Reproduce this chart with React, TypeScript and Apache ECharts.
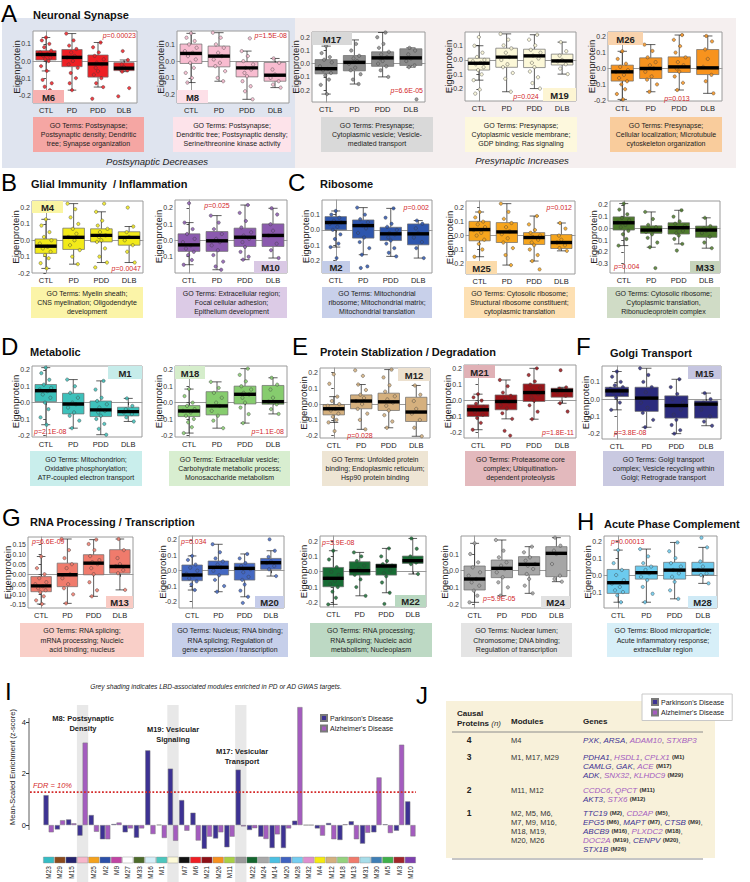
import React, { useEffect, useRef } from 'react';
import * as echarts from 'echarts';

const FONT = "'Liberation Sans', Arial, sans-serif";
const CATS = ['CTL', 'PD', 'PDD', 'DLB'];

// [min, q1, median, q3, max] per group (CTL, PD, PDD, DLB)
const BOX_M6 = [[-0.058, 0.006, 0.038, 0.06, 0.137], [-0.17, -0.033, 0.021, 0.067, 0.16], [-0.152, -0.094, -0.017, 0.035, 0.108], [-0.062, -0.056, -0.042, -0.01, 0.006]];
const PTS_M6 = [[0.137, 0.12, 0.1, 0.08, 0.06, 0.05, 0.04, 0.03, 0.02, 0.01, 0, -0.03, -0.058, -0.11, -0.13, -0.15, -0.17], [0.16, 0.12, 0.09, 0.07, 0.05, 0.03, 0.02, 0, -0.02, -0.04, -0.07, -0.1, -0.13, -0.17], [0.108, 0.08, 0.05, 0.03, 0.01, -0.01, -0.02, -0.04, -0.06, -0.08, -0.1, -0.13, -0.152, -0.22], [0.058, 0.006, -0.02, -0.035, -0.045, -0.055, -0.062, -0.158, -0.206]];
const BOX_M8 = [[-0.128, -0.014, 0.046, 0.102, 0.166], [-0.12, -0.034, 0.03, 0.09, 0.17], [-0.228, -0.094, -0.04, -0.004, 0.06], [-0.158, -0.12, -0.084, -0.008, 0.016]];
const PTS_M8 = [[0.166, 0.14, 0.12, 0.1, 0.08, 0.06, 0.05, 0.03, 0.01, -0.01, -0.04, -0.07, -0.1, -0.128], [0.17, 0.14, 0.1, 0.08, 0.05, 0.03, 0.01, -0.01, -0.03, -0.06, -0.1, -0.12], [0.136, 0.06, 0.03, 0, -0.02, -0.04, -0.05, -0.07, -0.09, -0.12, -0.15, -0.18, -0.228], [0.016, -0.01, -0.05, -0.08, -0.1, -0.12, -0.14, -0.158]];
const BOX_M17 = [[-0.23, -0.077, -0.038, 0.031, 0.133], [-0.154, -0.054, 0.01, 0.062, 0.18], [-0.1, -0.02, 0.044, 0.09, 0.236], [-0.026, -0.013, 0.044, 0.113, 0.12]];
const PTS_M17 = [[0.133, 0.08, 0.05, 0.03, 0.01, -0.02, -0.04, -0.05, -0.07, -0.09, -0.12, -0.16, -0.23], [0.18, 0.15, 0.1, 0.06, 0.04, 0.02, 0, -0.03, -0.05, -0.08, -0.12, -0.154], [0.236, 0.2, 0.15, 0.12, 0.09, 0.07, 0.05, 0.04, 0.02, 0, -0.02, -0.05, -0.1], [0.12, 0.1, 0.07, 0.04, 0.02, -0.013, -0.026, -0.27]];
const BOX_M19 = [[-0.14, -0.07, -0.023, 0.012, 0.098], [-0.22, -0.051, 0.019, 0.081, 0.18], [-0.198, -0.053, 0.028, 0.074, 0.174], [-0.098, -0.035, -0.007, 0.04, 0.123]];
const PTS_M19 = [[0.158, 0.098, 0.05, 0.02, 0, -0.01, -0.02, -0.03, -0.05, -0.07, -0.1, -0.14, -0.205, -0.233], [0.18, 0.14, 0.1, 0.08, 0.05, 0.02, 0, -0.03, -0.05, -0.09, -0.13, -0.22], [0.174, 0.14, 0.1, 0.07, 0.05, 0.03, 0.01, -0.02, -0.05, -0.08, -0.12, -0.16, -0.198], [0.123, 0.06, 0.03, 0, -0.01, -0.03, -0.06, -0.098]];
const BOX_M26 = [[-0.194, -0.079, -0.021, 0.021, 0.108], [-0.146, -0.063, 0, 0.067, 0.15], [-0.135, -0.025, 0.01, 0.073, 0.21], [-0.156, -0.038, 0.004, 0.119, 0.204]];
const PTS_M26 = [[0.108, 0.06, 0.03, 0.01, -0.01, -0.02, -0.04, -0.06, -0.08, -0.1, -0.13, -0.16, -0.194], [0.15, 0.11, 0.07, 0.04, 0.02, 0, -0.02, -0.05, -0.07, -0.1, -0.146], [0.21, 0.18, 0.14, 0.1, 0.07, 0.04, 0.02, 0, -0.02, -0.05, -0.09, -0.135], [0.204, 0.17, 0.12, 0.06, 0.01, -0.04, -0.08, -0.156]];
const BOX_M4 = [[-0.172, -0.08, -0.036, 0.008, 0.128], [-0.146, -0.056, 0.018, 0.074, 0.224], [-0.136, -0.01, 0.03, 0.07, 0.174], [-0.136, -0.03, 0.018, 0.052, 0.084]];
const PTS_M4 = [[0.128, 0.09, 0.05, 0.02, 0, -0.02, -0.04, -0.05, -0.07, -0.09, -0.11, -0.14, -0.172], [0.224, 0.19, 0.14, 0.1, 0.07, 0.04, 0.02, 0, -0.03, -0.06, -0.1, -0.146], [0.224, 0.174, 0.12, 0.09, 0.07, 0.05, 0.03, 0.02, 0, -0.01, -0.05, -0.1, -0.136, -0.166], [0.2, 0.084, 0.05, 0.02, 0, -0.03, -0.07, -0.136]];
const BOX_M10 = [[-0.149, -0.067, -0.027, 0.041, 0.11], [-0.18, -0.067, -0.002, 0.055, 0.153], [-0.118, -0.037, 0.02, 0.076, 0.218], [-0.108, -0.037, 0.031, 0.102, 0.198]];
const PTS_M10 = [[0.229, 0.11, 0.07, 0.04, 0.01, -0.01, -0.03, -0.05, -0.07, -0.09, -0.12, -0.149], [0.153, 0.11, 0.07, 0.04, 0.01, -0.01, -0.03, -0.06, -0.09, -0.13, -0.16, -0.18], [0.218, 0.17, 0.12, 0.08, 0.05, 0.03, 0.01, -0.01, -0.04, -0.07, -0.1, -0.118], [0.198, 0.16, 0.1, 0.06, 0.03, -0.02, -0.06, -0.108]];
const BOX_M2 = [[-0.113, 0, 0.048, 0.087, 0.124], [-0.163, -0.054, 0.028, 0.065, 0.146], [-0.174, -0.07, -0.026, 0.017, 0.141], [-0.185, -0.098, -0.026, 0.039, 0.061]];
const PTS_M2 = [[0.124, 0.1, 0.08, 0.06, 0.05, 0.04, 0.02, 0, -0.03, -0.06, -0.09, -0.113, -0.185], [0.146, 0.1, 0.07, 0.05, 0.03, 0.01, -0.02, -0.05, -0.08, -0.12, -0.163, -0.24, -0.25], [0.141, 0.08, 0.04, 0.02, 0, -0.02, -0.03, -0.05, -0.07, -0.09, -0.12, -0.15, -0.174], [0.061, 0.04, 0.01, -0.02, -0.05, -0.08, -0.12, -0.185]];
const BOX_M25 = [[-0.152, -0.038, 0.043, 0.102, 0.169], [-0.212, -0.05, 0.026, 0.093, 0.229], [-0.183, -0.064, -0.014, 0.021, 0.14], [-0.11, -0.093, -0.05, 0.007, 0.09]];
const PTS_M25 = [[0.169, 0.13, 0.1, 0.08, 0.06, 0.04, 0.02, 0, -0.03, -0.06, -0.1, -0.152], [0.229, 0.17, 0.12, 0.09, 0.06, 0.03, 0.01, -0.02, -0.05, -0.09, -0.14, -0.212], [0.14, 0.08, 0.04, 0.02, 0, -0.01, -0.03, -0.05, -0.07, -0.1, -0.14, -0.183, -0.243], [0.09, 0.05, 0, -0.03, -0.05, -0.07, -0.09, -0.11]];
const BOX_M33 = [[-0.146, -0.014, 0.048, 0.098, 0.211], [-0.16, -0.042, -0.014, 0.022, 0.14], [-0.132, -0.048, 0.006, 0.048, 0.154], [-0.168, -0.076, -0.014, 0.02, 0.09]];
const PTS_M33 = [[0.211, 0.16, 0.12, 0.09, 0.07, 0.05, 0.03, 0.01, -0.02, -0.05, -0.09, -0.146], [0.14, 0.08, 0.03, 0.01, -0.01, -0.02, -0.03, -0.05, -0.08, -0.12, -0.16, -0.337], [0.154, 0.1, 0.06, 0.04, 0.02, 0, -0.02, -0.04, -0.06, -0.09, -0.132, -0.188], [0.09, 0.02, 0, -0.02, -0.04, -0.07, -0.12, -0.168]];
const BOX_M1 = [[-0.135, 0.006, 0.073, 0.111, 0.214], [-0.156, -0.069, -0.008, 0.057, 0.141], [-0.196, -0.085, -0.044, 0.01, 0.133], [-0.115, -0.081, -0.055, -0.028, 0.026]];
const PTS_M1 = [[0.214, 0.18, 0.14, 0.11, 0.09, 0.08, 0.07, 0.05, 0.03, 0, -0.04, -0.09, -0.135], [0.141, 0.1, 0.06, 0.03, 0, -0.01, -0.03, -0.06, -0.08, -0.11, -0.156], [0.133, 0.08, 0.03, 0.01, -0.01, -0.03, -0.05, -0.06, -0.08, -0.1, -0.13, -0.16, -0.196], [0.026, -0.02, -0.04, -0.05, -0.06, -0.07, -0.09, -0.115]];
const BOX_M18 = [[-0.186, -0.085, -0.051, -0.018, 0.083], [-0.156, -0.075, -0.02, 0.067, 0.127], [-0.125, -0.008, 0.051, 0.101, 0.208], [-0.069, -0.01, 0.006, 0.105, 0.152]];
const PTS_M18 = [[0.083, 0.04, 0, -0.02, -0.04, -0.05, -0.06, -0.08, -0.1, -0.12, -0.15, -0.186], [0.127, 0.09, 0.06, 0.03, 0, -0.02, -0.05, -0.08, -0.11, -0.156], [0.208, 0.17, 0.13, 0.1, 0.08, 0.06, 0.05, 0.03, 0, -0.03, -0.07, -0.125], [0.152, 0.11, 0.08, 0.03, 0.006, -0.01, -0.04, -0.069]];
const BOX_M12 = [[-0.116, -0.068, -0.029, -0.002, 0.048], [-0.16, -0.029, 0.02, 0.059, 0.125], [-0.15, -0.04, 0.015, 0.07, 0.22], [-0.204, -0.11, -0.05, 0.044, 0.119]];
const PTS_M12 = [[0.19, 0.13, 0.048, 0.02, 0, -0.01, -0.03, -0.04, -0.06, -0.08, -0.1, -0.116, -0.171], [0.215, 0.18, 0.125, 0.09, 0.06, 0.04, 0.02, 0, -0.03, -0.06, -0.1, -0.16], [0.22, 0.17, 0.12, 0.08, 0.05, 0.03, 0.01, -0.01, -0.04, -0.07, -0.11, -0.15], [0.119, 0.06, 0.02, -0.03, -0.06, -0.1, -0.15, -0.204]];
const BOX_M21 = [[-0.183, -0.1, -0.058, -0.027, 0.04], [-0.115, -0.058, -0.006, 0.035, 0.129], [-0.117, -0.006, 0.05, 0.104, 0.202], [-0.017, 0.021, 0.063, 0.077, 0.083]];
const PTS_M21 = [[0.04, 0.02, 0, -0.02, -0.04, -0.05, -0.06, -0.07, -0.09, -0.11, -0.14, -0.183], [0.129, 0.09, 0.05, 0.03, 0.01, -0.01, -0.03, -0.05, -0.08, -0.115, -0.19, -0.22], [0.202, 0.16, 0.12, 0.1, 0.08, 0.06, 0.04, 0.02, 0, -0.03, -0.07, -0.117], [0.19, 0.083, 0.075, 0.065, 0.055, 0.03, -0.017, -0.069]];
const BOX_M15 = [[-0.062, 0.015, 0.048, 0.069, 0.16], [-0.163, -0.071, 0.006, 0.069, 0.179], [-0.2, -0.11, -0.037, 0.019, 0.115], [-0.154, -0.11, -0.029, -0.01, 0.035]];
const PTS_M15 = [[0.16, 0.13, 0.1, 0.08, 0.07, 0.06, 0.05, 0.04, 0.03, 0.01, -0.02, -0.062], [0.179, 0.14, 0.1, 0.07, 0.04, 0.01, -0.02, -0.05, -0.08, -0.12, -0.163], [0.115, 0.07, 0.03, 0, -0.02, -0.04, -0.06, -0.09, -0.12, -0.15, -0.18, -0.2], [0.035, 0, -0.02, -0.03, -0.06, -0.1, -0.13, -0.154]];
const BOX_M13 = [[-0.148, -0.087, -0.058, -0.012, 0.088], [-0.145, -0.062, -0.003, 0.055, 0.175], [-0.11, -0.003, 0.055, 0.097, 0.172], [-0.078, 0.005, 0.038, 0.122, 0.175]];
const PTS_M13 = [[0.088, 0.03, 0, -0.02, -0.04, -0.05, -0.06, -0.07, -0.08, -0.09, -0.11, -0.13, -0.148], [0.175, 0.12, 0.08, 0.05, 0.03, 0, -0.02, -0.05, -0.07, -0.1, -0.145], [0.172, 0.15, 0.12, 0.09, 0.07, 0.06, 0.05, 0.03, 0, -0.04, -0.08, -0.11], [0.175, 0.12, 0.08, 0.05, 0.04, 0.02, 0.005, -0.078]];
const BOX_M20 = [[-0.126, -0.065, -0.028, 0.037, 0.096], [-0.137, -0.028, 0.022, 0.063, 0.172], [-0.17, -0.061, 0.015, 0.048, 0.109], [-0.035, 0.009, 0.052, 0.08, 0.13]];
const PTS_M20 = [[0.096, 0.07, 0.04, 0.02, 0, -0.02, -0.03, -0.05, -0.07, -0.09, -0.126], [0.172, 0.12, 0.08, 0.06, 0.04, 0.02, 0, -0.03, -0.06, -0.1, -0.137], [0.109, 0.08, 0.05, 0.03, 0.01, -0.01, -0.04, -0.06, -0.09, -0.13, -0.17, -0.21], [0.204, 0.13, 0.09, 0.06, 0.05, 0.03, 0.009, -0.035]];
const BOX_M22 = [[-0.213, -0.098, -0.043, 0.028, 0.137], [-0.157, -0.022, 0.007, 0.065, 0.126], [-0.137, -0.022, 0.037, 0.05, 0.152], [-0.015, 0.054, 0.072, 0.102, 0.217]];
const PTS_M22 = [[0.137, 0.08, 0.03, 0, -0.02, -0.04, -0.06, -0.08, -0.1, -0.13, -0.17, -0.213], [0.126, 0.1, 0.07, 0.04, 0.02, 0, -0.02, -0.05, -0.1, -0.157], [0.152, 0.1, 0.07, 0.05, 0.04, 0.03, 0.01, -0.01, -0.03, -0.07, -0.137, -0.21], [0.217, 0.15, 0.1, 0.08, 0.07, 0.06, 0.05, -0.015]];
const BOX_M24 = [[-0.19, -0.116, -0.05, 0.028, 0.164], [-0.15, -0.042, 0.014, 0.064, 0.184], [-0.136, -0.026, 0.038, 0.084, 0.144], [-0.066, -0.036, 0.104, 0.144, 0.198]];
const PTS_M24 = [[0.164, 0.1, 0.05, 0.02, -0.01, -0.03, -0.05, -0.07, -0.09, -0.12, -0.15, -0.19], [0.184, 0.12, 0.08, 0.05, 0.03, 0.01, -0.01, -0.04, -0.07, -0.1, -0.15], [0.144, 0.11, 0.08, 0.06, 0.04, 0.03, 0.01, -0.02, -0.05, -0.09, -0.136], [0.198, 0.15, 0.12, 0.1, 0.04, -0.03, -0.05, -0.066]];
const BOX_M28 = [[-0.16, -0.108, -0.045, 0.033, 0.147], [-0.16, -0.024, 0.014, 0.053, 0.153], [-0.14, -0.024, 0.029, 0.075, 0.192], [-0.049, 0, 0.029, 0.075, 0.163]];
const PTS_M28 = [[0.147, 0.07, 0.03, 0, -0.03, -0.05, -0.07, -0.09, -0.1, -0.12, -0.16], [0.153, 0.11, 0.07, 0.05, 0.03, 0.01, -0.01, -0.03, -0.07, -0.11, -0.16], [0.192, 0.14, 0.1, 0.07, 0.05, 0.03, 0.01, -0.01, -0.04, -0.09, -0.14], [0.22, 0.163, 0.08, 0.05, 0.03, 0.01, 0, -0.049]];

const GO_TERMS: Record<string, string> = {
  M6: 'GO Terms: Postsynapse;\nPostsynaptic density; Dendritic\ntree; Synapse organization',
  M8: 'GO Terms: Postsynapse;\nDendritic tree; Postsynaptic density;\nSerine/threonine kinase activity',
  M17: 'GO Terms: Presynapse;\nCytoplasmic vesicle; Vesicle-\nmediated transport',
  M19: 'GO Terms: Presynapse;\nCytoplasmic vesicle membrane;\nGDP binding; Ras signaling',
  M26: 'GO Terms: Presynapse;\nCellular localization; Microtubule\ncytoskeleton organization',
  M4: 'GO Terms: Myelin sheath;\nCNS myelination; Oligodendryte\ndevelopment',
  M10: 'GO Terms: Extracellular region;\nFocal cellular adhesion;\nEpithelium development',
  M2: 'GO Terms: Mitochondrial\nribosome; Mitochondrial matrix;\nMitochondrial translation',
  M25: 'GO Terms: Cytosolic ribosome;\nStructural ribosome constituent;\ncytoplasmic translation',
  M33: 'GO Terms: Cytosolic ribosome;\nCytoplasmic translation,\nRibonucleoprotein complex',
  M1: 'GO Terms: Mitochondrion;\nOxidative phosphorylation;\nATP-coupled electron transport',
  M18: 'GO Terms: Extracellular vesicle;\nCarbohydrate metabolic process;\nMonosaccharide metabolism',
  M12: 'GO Terms: Unfolded protein\nbinding; Endoplasmic reticulum;\nHsp90 protein binding',
  M21: 'GO Terms: Proteasome core\ncomplex; Ubiquitination-\ndependent proteolysis',
  M15: 'GO Terms: Golgi transport\ncomplex; Vesicle recycling within\nGolgi; Retrograde transport',
  M13: 'GO Terms: RNA splicing;\nmRNA processing; Nucleic\nacid binding; nucleus',
  M20: 'GO Terms: Nucleus; RNA binding;\nRNA splicing; Regulation of\ngene expression / transcription',
  M22: 'GO Terms: RNA processing;\nRNA splicing; Nucleic acid\nmetabolism; Nucleoplasm',
  M24: 'GO Terms: Nuclear lumen;\nChromosome; DNA binding;\nRegulation of transcription',
  M28: 'GO Terms: Blood microparticle;\nAcute inflammatory response;\nextracellular region',
};

const P_VALUES: Record<string, string> = {
  M6: '0.00023', M8: '1.5E-08', M17: '6.6E-05', M19: '0.024', M26: '0.013', M4: '0.0047', M10: '0.025',
  M2: '0.002', M25: '0.012', M33: '0.004', M1: '2.1E-08', M18: '1.1E-08', M12: '0.028', M21: '1.8E-11',
  M15: '3.8E-08', M13: '6.6E-09', M20: '0.034', M22: '3.9E-08', M24: '5.9E-05', M28: '0.00013',
};

// Panel I data
const I_MODULES = ['M23', 'M29', 'M15', 'M8', 'M25', 'M2', 'M9', 'M27', 'M33', 'M16', 'M1', 'M19', 'M7', 'M6', 'M21', 'M26', 'M11', 'M17', 'M22', 'M24', 'M14', 'M20', 'M28', 'M32', 'M4', 'M12', 'M18', 'M13', 'M31', 'M30', 'M5', 'M3', 'M10'];
const I_PD = [1.16, -0.17, 0.22, -0.41, 0.39, -0.55, 0.04, -0.28, -0.49, 2.9, 0.01, 2.19, 0.97, 0.48, -0.92, -0.52, -0.86, 2.15, -0.19, -0.45, -0.89, -0.89, 0.17, 0.0, -0.13, 0.08, -0.58, 0.15, -0.72, -0.28, 0.03, -0.22, 0.92];
const I_AD = [-0.28, 0.19, 0.07, 3.2, -0.26, -0.55, 0.1, -0.13, -0.13, -0.35, -0.5, -0.61, -0.22, -0.6, -0.45, -0.28, -0.45, -0.05, -0.12, -0.54, -0.36, -0.13, 4.58, 0.0, -0.41, -0.55, 0.03, -0.55, -0.3, 1.85, -0.31, 3.12, -0.44];
const I_COLORS = ['#35bcc4', '#8b4a1c', '#24246e', '#f7b6ca', '#f4a21d', '#2c50a8', '#c044a4', '#ffffff', '#4d6b2a', '#d6eef8', '#4cc6bd', '#fdfad8', '#111111', '#ee1f24', '#8e0f16', '#f7901e', '#a9d044', '#9a9a9a', '#14662f', '#a9a9a9', '#4cc0e2', '#3f62c0', '#74cdf0', '#de8fd0', '#f5ea10', '#d4b07e', '#94d27e', '#f07b6c', '#a7dde9', '#3f7fb6', '#3fb04a', '#a1262a', '#7d3fae'];
const I_SHADED = ['M8', 'M19', 'M17'];
const I_FDR = [1.28];

// Panel J data
const J_COUNTS = ['4', '3', '2', '1'];
const J_MODULES = ['M4', 'M1, M17, M29', 'M11, M12', 'M2, M5, M6,\nM7, M9, M16,\nM18, M19,\nM20, M26'];
const J_GENES = [
  ['{p|PXK}, {p|ARSA}, {a|ADAM10}, {a|STXBP3}'],
  ['{p|PDHA1}, {a|HSDL1}, {a|CPLX1} {m|(M1)}', '{p|CAMLG}, {p|GAK}, {a|ACE} {m|(M17)}', '{p|ADK}, {a|SNX32}, {a|KLHDC9} {m|(M29)}'],
  ['{a|CCDC6}, {a|QPCT} {m|(M11)}', '{p|AKT3}, {a|STX6} {m|(M12)}'],
  ['{p|TTC19} {m|(M2)}, {a|CD2AP} {m|(M5)},', '{p|EPG5} {m|(M6)}, {p|MAPT} {m|(M7)}, {p|CTSB} {m|(M9)},', '{p|ABCB9} {m|(M16)}, {a|PLXDC2} {m|(M18)},', '{a|DOC2A} {m|(M19)}, {p|CENPV} {m|(M20)},', '{p|STX1B} {m|(M26)}'],
];

const PD_COLOR = '#3d3293';
const AD_COLOR = '#a45cbf';

// layout for each boxplot panel
const T4 = [-0.2, -0.1, 0, 0.1];
const T5 = [-0.2, -0.1, 0, 0.1, 0.2];
const PANELS: any[] = [
  { id: 'M6', box: BOX_M6, pts: PTS_M6, color: '#ee1f24', tagc: '#f7b1b0', goc: '#f5a6a3', grid: [33, 31, 104, 72], y: [-0.245, 0.175], ticks: T4, tag: [33, 90, 31, 13], pAt: [136, 35, 'right'], go: [33, 117, 111, 35] },
  { id: 'M8', box: BOX_M8, pts: PTS_M8, color: '#f8bcd0', tagc: '#fde0e8', goc: '#fde3ea', grid: [177, 31, 112, 72], y: [-0.25, 0.18], ticks: T4, tag: [177, 90, 31, 13], pAt: [287, 35, 'right'], go: [173, 117, 118, 35] },
  { id: 'M17', box: BOX_M17, pts: PTS_M17, color: '#8c8c8c', tagc: '#d8d8d8', goc: '#d9d9d9', grid: [312, 32, 113, 70], y: [-0.29, 0.24], ticks: T5, tag: [312, 32, 40, 13], pAt: [423, 90, 'right'], go: [321, 117, 112, 35] },
  { id: 'M19', box: BOX_M19, pts: PTS_M19, color: '#fcf8d8', tagc: '#fdf5d3', goc: '#fdf8dd', grid: [465, 32, 111, 69], y: [-0.284, 0.193], ticks: T4, tag: [543, 88, 33, 13], pAt: [526, 96, 'center'], go: [465, 117, 112, 35] },
  { id: 'M26', box: BOX_M26, pts: PTS_M26, color: '#f7931e', tagc: '#f9d3ad', goc: '#f9cc9c', grid: [608, 32, 114, 69], y: [-0.204, 0.229], ticks: T5, tag: [608, 32, 35, 13], pAt: [677, 98, 'center'], go: [610, 117, 112, 35] },
  { id: 'M4', box: BOX_M4, pts: PTS_M4, color: '#f2ea1a', tagc: '#faf5a3', goc: '#fbf4a8', grid: [32, 201, 111, 72], y: [-0.2, 0.24], ticks: T5, tag: [32, 201, 31, 12], pAt: [141, 268, 'right'], go: [31, 287, 112, 31] },
  { id: 'M10', box: BOX_M10, pts: PTS_M10, color: '#8b5aaf', tagc: '#d9c8e4', goc: '#dccbe6', grid: [175, 200, 112, 73], y: [-0.2, 0.249], ticks: [-0.1, 0, 0.1, 0.2], tag: [254, 261, 33, 12], pAt: [217, 205, 'center'], go: [176, 287, 111, 31] },
  { id: 'M2', box: BOX_M2, pts: PTS_M2, color: '#2e56ad', tagc: '#c3cce8', goc: '#c8d0ea', grid: [322, 200, 110, 73], y: [-0.283, 0.196], ticks: T4, tag: [322, 261, 28, 12], pAt: [429, 207, 'right'], go: [322, 287, 110, 31] },
  { id: 'M25', box: BOX_M25, pts: PTS_M25, color: '#f6a51d', tagc: '#fbdbab', goc: '#fde0b3', grid: [466, 201, 109, 73], y: [-0.276, 0.248], ticks: T5, tag: [466, 261, 31, 13], pAt: [572, 207, 'right'], go: [464, 287, 111, 31] },
  { id: 'M33', box: BOX_M33, pts: PTS_M33, color: '#4d7a2b', tagc: '#c6d3bb', goc: '#d0dcc6', grid: [610, 201, 110, 72], y: [-0.379, 0.233], ticks: [-0.3, -0.2, -0.1, 0, 0.1, 0.2], tag: [690, 261, 30, 12], pAt: [614, 266, 'left'], go: [607, 287, 113, 31] },
  { id: 'M1', box: BOX_M1, pts: PTS_M1, color: '#3dc1bb', tagc: '#c6ecea', goc: '#c9eeec', grid: [32, 366, 110, 71], y: [-0.21, 0.224], ticks: T5, tag: [108, 366, 34, 13], pAt: [34, 431, 'left'], go: [30, 451, 112, 35] },
  { id: 'M18', box: BOX_M18, pts: PTS_M18, color: '#86cc6e', tagc: '#d5edcb', goc: '#d8eed0', grid: [175, 366, 112, 71], y: [-0.21, 0.224], ticks: T5, tag: [175, 366, 30, 13], pAt: [284, 431, 'right'], go: [169, 451, 121, 35] },
  { id: 'M12', box: BOX_M12, pts: PTS_M12, color: '#d5b07e', tagc: '#ece0ce', goc: '#eee5d4', grid: [320, 368, 110, 70], y: [-0.215, 0.23], ticks: T5, tag: [398, 368, 32, 13], pAt: [360, 435, 'center'], go: [322, 451, 106, 35] },
  { id: 'M21', box: BOX_M21, pts: PTS_M21, color: '#9a1419', tagc: '#e0b1b6', goc: '#e3b9bd', grid: [464, 365, 112, 73], y: [-0.235, 0.223], ticks: T5, tag: [464, 365, 31, 13], pAt: [574, 432, 'right'], go: [465, 451, 111, 35] },
  { id: 'M15', box: BOX_M15, pts: PTS_M15, color: '#2b2b7d', tagc: '#c5c5e0', goc: '#c9c9e1', grid: [602, 366, 119, 73], y: [-0.231, 0.192], ticks: T4, tag: [688, 366, 33, 13], pAt: [614, 432, 'left'], go: [603, 451, 121, 35] },
  { id: 'M13', box: BOX_M13, pts: PTS_M13, color: '#f07b6c', tagc: '#f9cbc4', goc: '#f9cfc8', grid: [28, 537, 105, 71], y: [-0.168, 0.185], ticks: [-0.15, -0.1, -0.05, 0, 0.05, 0.1, 0.15], dec: 2, tag: [106, 596, 27, 12], pAt: [32, 541, 'left'], go: [20, 623, 124, 34] },
  { id: 'M20', box: BOX_M20, pts: PTS_M20, color: '#4468c2', tagc: '#c6cdea', goc: '#c6cfea', grid: [179, 536, 105, 72], y: [-0.243, 0.226], ticks: T5, tag: [255, 596, 29, 12], pAt: [181, 541, 'left'], go: [172, 623, 116, 34] },
  { id: 'M22', box: BOX_M22, pts: PTS_M22, color: '#176c34', tagc: '#b9d8c1', goc: '#bdd9c4', grid: [320, 536, 106, 71], y: [-0.23, 0.233], ticks: T5, tag: [395, 595, 31, 12], pAt: [322, 542, 'left'], go: [310, 623, 122, 34] },
  { id: 'M24', box: BOX_M24, pts: PTS_M24, color: '#a6a6a6', tagc: '#e1e1e1', goc: '#e4e4e4', grid: [461, 536, 109, 72], y: [-0.224, 0.208], ticks: T4, tag: [541, 596, 29, 12], pAt: [483, 598, 'left'], go: [461, 623, 111, 34] },
  { id: 'M28', box: BOX_M28, pts: PTS_M28, color: '#6ccbee', tagc: '#cfeaf6', goc: '#d7eff8', grid: [604, 536, 113, 72], y: [-0.194, 0.23], ticks: [-0.1, 0, 0.1, 0.2], tag: [688, 596, 29, 12], pAt: [611, 541, 'left'], go: [607, 623, 112, 34] },
];

const JIT = [0, -0.16, 0.13, -0.07, 0.2, -0.22, 0.06, -0.11, 0.17, -0.03, 0.1, -0.19, 0.03, -0.13, 0.22, -0.05, 0.15, -0.09];
const BOX_FRAC = 0.78;

function boxRender(fill: string) {
  return (params: any, api: any) => {
    const x = api.value(0);
    const bw = api.size([1, 0])[0] * BOX_FRAC;
    const cw = bw * 0.42;
    const pMin = api.coord([x, api.value(1)]);
    const pQ1 = api.coord([x, api.value(2)]);
    const pQ3 = api.coord([x, api.value(4)]);
    const pMax = api.coord([x, api.value(5)]);
    const cx = pMin[0];
    const ls = { stroke: '#1a1a1a', lineWidth: 0.7 };
    return {
      type: 'group',
      children: [
        { type: 'line', shape: { x1: cx, y1: pMin[1], x2: cx, y2: pQ1[1] }, style: ls },
        { type: 'line', shape: { x1: cx, y1: pQ3[1], x2: cx, y2: pMax[1] }, style: ls },
        { type: 'line', shape: { x1: cx - cw / 2, y1: pMin[1], x2: cx + cw / 2, y2: pMin[1] }, style: ls },
        { type: 'line', shape: { x1: cx - cw / 2, y1: pMax[1], x2: cx + cw / 2, y2: pMax[1] }, style: ls },
        { type: 'rect', shape: { x: cx - bw / 2, y: pQ3[1], width: bw, height: pQ1[1] - pQ3[1] }, style: { fill, stroke: '#6b6b6b', lineWidth: 0.7 } },
      ],
    };
  };
}

function medianRender(params: any, api: any) {
  const x = api.value(0);
  const p = api.coord([x, api.value(3)]);
  const bw = api.size([1, 0])[0] * BOX_FRAC;
  return { type: 'rect', shape: { x: p[0] - bw / 2, y: p[1] - 1.7, width: bw, height: 3.4 }, style: { fill: '#000' } };
}

const txt = (x: number, y: number, text: string, o: any = {}, z = 5) => ({
  type: 'text', x, y, z, silent: true,
  style: { text, fontFamily: FONT, fontSize: 8, fill: '#222', textAlign: 'left', textVerticalAlign: 'middle', ...o },
});
const rect = (x: number, y: number, w: number, h: number, fill: string, z = 1, o: any = {}) => ({
  type: 'rect', z, silent: true, shape: { x, y, width: w, height: h }, style: { fill, ...o },
});

function buildOption() {
  const grid: any[] = [];
  const xAxis: any[] = [];
  const yAxis: any[] = [];
  const series: any[] = [];
  const g: any[] = [];

  // Panel A backgrounds
  g.push(rect(2, 18, 293, 150, '#dfe4ef', -10));
  g.push(rect(295, 18, 441, 150, '#f5efef', -10));
  g.push(txt(157, 161, 'Postsynaptic Decreases', { fontSize: 9.5, fontStyle: 'italic', textAlign: 'center' }));
  g.push(txt(522, 160, 'Presynaptic Increases', { fontSize: 9.5, fontStyle: 'italic', textAlign: 'center' }));

  const letters: any[] = [['A', 1, 13], ['B', 1, 182], ['C', 288, 182], ['D', 1, 346], ['E', 292, 346], ['F', 576, 346.5], ['G', 2, 517], ['H', 577, 521.5], ['I', 5, 691], ['J', 416, 695]];
  letters.forEach(([t, x, y]) => g.push(txt(x, y, t, { fontSize: 24, fill: '#000' })));
  const titles: any[] = [['Neuronal Synapse', 33, 15], ['Glial Immunity  / Inflammation', 31, 184], ['Ribosome', 320, 184], ['Metabolic', 30, 352], ['Protein Stablization / Degradation', 320, 352], ['Golgi Transport', 610, 353], ['RNA Processing / Transcription', 30, 522], ['Acute Phase Complement', 604, 524]];
  titles.forEach(([t, x, y]) => g.push(txt(x, y, t, { fontSize: 11, fontWeight: 'bold', fill: '#111' })));

  PANELS.forEach((P, i) => {
    const [gx, gy, gw, gh] = P.grid;
    grid.push({ left: gx, top: gy, width: gw, height: gh, show: true, borderColor: '#9a9a9a', borderWidth: 1, backgroundColor: '#fff', containLabel: false, outerBoundsMode: 'none' });
    xAxis.push({
      type: 'category', gridIndex: i, data: CATS, boundaryGap: true,
      axisLine: { show: true, lineStyle: { color: '#9a9a9a' } },
      axisTick: { show: true, alignWithLabel: true, length: 2.5, lineStyle: { color: '#555' } },
      axisLabel: { fontSize: 7.5, color: '#222', margin: 3, fontFamily: FONT },
    });
    xAxis.push({ type: 'value', gridIndex: i, min: -0.5, max: 3.5, show: false });
    const dec = P.dec || 1;
    yAxis.push({
      type: 'value', gridIndex: i, min: P.y[0], max: P.y[1],
      splitLine: { show: false },
      axisLine: { show: true, lineStyle: { color: '#9a9a9a' } },
      axisTick: { show: true, length: 2.5, customValues: P.ticks, lineStyle: { color: '#555' } },
      axisLabel: { customValues: P.ticks, formatter: (v: number) => v.toFixed(dec), fontSize: 7, color: '#333', margin: 2, fontFamily: FONT },
      name: 'Eigenprotein', nameLocation: 'middle', nameGap: dec === 2 ? 16 : 12, nameRotate: 90, nameMoveOverlap: false,
      nameTextStyle: { fontSize: 9.5, color: '#222', fontFamily: FONT },
    });
    series.push({
      type: 'custom', xAxisIndex: 2 * i + 1, yAxisIndex: i, renderItem: boxRender(P.color), silent: true, z: 2,
      encode: { x: 0, y: [1, 2, 3, 4, 5] },
      data: P.box.map((b: number[], c: number) => [c, ...b]),
    });
    const pts: number[][] = [];
    P.pts.forEach((arr: number[], c: number) => arr.forEach((v, k) => pts.push([c + JIT[(k + c * 5) % JIT.length], v])));
    series.push({
      type: 'scatter', xAxisIndex: 2 * i + 1, yAxisIndex: i, data: pts, symbolSize: 3.3, silent: true, z: 3,
      itemStyle: { color: P.color, borderColor: '#3a3a3a', borderWidth: 0.5, opacity: 0.85 },
    });
    series.push({
      type: 'custom', xAxisIndex: 2 * i + 1, yAxisIndex: i, renderItem: medianRender, silent: true, z: 4,
      encode: { x: 0, y: [1, 2, 3, 4, 5] },
      data: P.box.map((b: number[], c: number) => [c, ...b]),
    });
    // tag
    const [tx, ty, tw, th] = P.tag;
    g.push(rect(tx, ty, tw, th, P.tagc, 10));
    g.push(txt(tx + tw / 2, ty + th / 2 + 0.5, P.id, { fontSize: 9.5, fontWeight: 'bold', textAlign: 'center', fill: '#222' }, 11));
    // p value
    const [px, py, pa] = P.pAt;
    g.push(txt(px, py, '{i|p}=' + P_VALUES[P.id], {
      fontSize: 7, fill: '#d21f2b', textAlign: pa,
      rich: { i: { fontStyle: 'italic', fontSize: 7, fill: '#d21f2b', fontFamily: FONT } },
    }, 11));
    // GO box
    const [bx, by, bw, bh] = P.go;
    g.push(rect(bx, by, bw, bh, P.goc, 1));
    g.push(txt(bx + bw / 2, by + bh / 2, GO_TERMS[P.id], { fontSize: 7, lineHeight: 9.2, textAlign: 'center', fill: '#222' }, 2));
  });

  // Panel I
  const gi = PANELS.length;
  const xi = xAxis.length;
  grid.push({ left: 43, top: 704, width: 373, height: 152, show: false, containLabel: false, outerBoundsMode: 'none' });
  xAxis.push({
    type: 'category', gridIndex: gi, data: I_MODULES,
    axisLine: { show: false }, axisTick: { show: false },
    axisLabel: { rotate: 90, fontSize: 6.5, margin: 10, color: '#222', interval: 0, fontFamily: FONT },
  });
  yAxis.push({
    type: 'value', gridIndex: gi, min: -1.2, max: 4.7, offset: 14,
    splitLine: { show: false }, axisLine: { show: false },
    axisTick: { show: true, length: 3, customValues: [0, 2, 4], lineStyle: { color: '#333' } },
    axisLabel: { customValues: [0, 2, 4], fontSize: 7.5, color: '#222', margin: 3, fontFamily: FONT },
  });
  series.push({
    type: 'custom', xAxisIndex: xi, yAxisIndex: gi, silent: true, z: 1, clip: false,
    data: I_SHADED.map((m) => [I_MODULES.indexOf(m)]),
    encode: { x: 0 },
    renderItem: (params: any, api: any) => {
      const cs = params.coordSys;
      const c = api.coord([api.value(0), 0]);
      const w = api.size([1, 0])[0];
      return { type: 'rect', shape: { x: c[0] - w / 2, y: cs.y + 1, width: w, height: 882 - cs.y - 1 }, style: { fill: '#e8e8e8' } };
    },
  });
  series.push({
    type: 'custom', xAxisIndex: xi, yAxisIndex: gi, silent: true, z: 2, clip: false,
    data: I_MODULES.map((m, k) => [k]),
    encode: { x: 0 },
    renderItem: (params: any, api: any) => {
      const cs = params.coordSys;
      const k = api.value(0);
      const c = api.coord([k, 0]);
      const w = api.size([1, 0])[0];
      return { type: 'rect', shape: { x: c[0] - w / 2 + 0.4, y: cs.y + cs.height + 1, width: w - 0.8, height: 6 }, style: { fill: I_COLORS[k], stroke: '#888', lineWidth: 0.4 } };
    },
  });
  series.push({
    type: 'bar', name: "Parkinson's Disease", xAxisIndex: xi, yAxisIndex: gi, data: I_PD, barWidth: '45%', barGap: '2%',
    itemStyle: { color: PD_COLOR, borderColor: '#7a7a7a', borderWidth: 0.5 }, z: 3, silent: true,
  });
  series.push({
    type: 'bar', name: "Alzheimer's Disease", xAxisIndex: xi, yAxisIndex: gi, data: I_AD, barWidth: '45%', barGap: '2%',
    itemStyle: { color: AD_COLOR, borderColor: '#7a7a7a', borderWidth: 0.5 }, z: 3, silent: true,
  });
  series.push({
    type: 'custom', xAxisIndex: xi, yAxisIndex: gi, silent: true, z: 4, clip: false,
    data: I_FDR.map((v) => [0, v]),
    encode: { x: 0, y: 1 },
    renderItem: (params: any, api: any) => {
      const cs = params.coordSys;
      const y = api.coord([0, api.value(1)])[1];
      return {
        type: 'group', children: [
          { type: 'line', shape: { x1: 30, y1: y, x2: cs.x + cs.width, y2: y }, style: { stroke: '#d42a2a', lineWidth: 1.8, lineDash: [1.8, 1.8] } },
          { type: 'text', x: 33, y: y - 7, style: { text: 'FDR = 10%', fill: '#d42a2a', fontSize: 7.5, fontStyle: 'italic', fontFamily: FONT, textAlign: 'left', textVerticalAlign: 'middle' } },
        ],
      };
    },
  });
  g.push({ type: 'line', z: 5, silent: true, shape: { x1: 29, y1: 718, x2: 29, y2: 830 }, style: { stroke: '#333', lineWidth: 0.8 } });
  g.push({ ...txt(12, 767, 'Mean-Scaled Enrichment (z-score)', { fontSize: 7.5, textAlign: 'center' }), rotation: Math.PI / 2 });
  g.push(txt(216, 686, 'Grey shading indicates LBD-associated modules enriched in PD or AD GWAS targets.', { fontSize: 6.6, fontStyle: 'italic', textAlign: 'center' }));
  g.push(txt(83, 713, 'M8: Postsynaptic\nDensity', { fontSize: 7.5, fontWeight: 'bold', textAlign: 'center', textVerticalAlign: 'top', lineHeight: 10 }));
  g.push(txt(173, 724, 'M19: Vesicular\nSignaling', { fontSize: 7.5, fontWeight: 'bold', textAlign: 'center', textVerticalAlign: 'top', lineHeight: 10 }));
  g.push(txt(242, 746, 'M17: Vesicular\nTransport', { fontSize: 7.5, fontWeight: 'bold', textAlign: 'center', textVerticalAlign: 'top', lineHeight: 10 }));

  // Panel J
  g.push(rect(446, 701, 269, 157, '#f8f1da', -5));
  g.push({ type: 'line', z: 2, silent: true, shape: { x1: 452, y1: 732, x2: 703, y2: 732 }, style: { stroke: '#8c8c8c', lineWidth: 1 } });
  g.push({ type: 'line', z: 2, silent: true, shape: { x1: 452, y1: 859, x2: 703, y2: 859 }, style: { stroke: '#8c8c8c', lineWidth: 1 } });
  const hb = { fontSize: 8, fontWeight: 'bold', fill: '#222' };
  g.push(txt(457, 713, 'Causal', hb));
  g.push(txt(457, 723, 'Proteins {n|(n)}', { ...hb, rich: { n: { fontSize: 8, fontStyle: 'italic', fontWeight: 'normal', fill: '#333', fontFamily: FONT } } }));
  g.push(txt(511, 721, 'Modules', hb));
  g.push(txt(583, 721, 'Genes', hb));
  const rowY = [740, 757, 790, 813];
  const rich = {
    p: { fill: PD_COLOR, fontStyle: 'italic', fontSize: 8, fontFamily: FONT },
    a: { fill: AD_COLOR, fontStyle: 'italic', fontSize: 8, fontFamily: FONT },
    m: { fill: '#333', fontSize: 6, fontWeight: 'bold', fontFamily: FONT },
  };
  J_COUNTS.forEach((n, r) => {
    g.push(txt(469, rowY[r], n, { fontSize: 8.5, fontWeight: 'bold', textAlign: 'center' }));
    g.push(txt(511, rowY[r] - 4.6, J_MODULES[r], { fontSize: 7.5, textVerticalAlign: 'top', lineHeight: 9.3, fill: '#333' }));
    J_GENES[r].forEach((line, k) => {
      g.push(txt(583, rowY[r] + k * 9.1, line, { fontSize: 8, fill: '#555', rich }));
    });
  });

  return {
    animation: false,
    backgroundColor: '#fff',
    textStyle: { fontFamily: FONT },
    grid, xAxis, yAxis, series,
    legend: [
      {
        data: ["Parkinson's Disease", "Alzheimer's Disease"], left: 320, top: 714, orient: 'vertical', icon: 'rect',
        itemWidth: 6, itemHeight: 6, itemGap: 2.5, padding: 0, selectedMode: false,
        textStyle: { fontSize: 7, color: '#222', fontFamily: FONT, padding: [0, 0, 0, -2] },
      },
      {
        data: ["Parkinson's Disease", "Alzheimer's Disease"], left: 642, top: 694, orient: 'vertical', icon: 'rect',
        itemWidth: 6, itemHeight: 6, itemGap: 2.5, padding: [4, 8, 4, 9], selectedMode: false,
        backgroundColor: '#fff', borderColor: '#c8c8c8', borderWidth: 1,
        textStyle: { fontSize: 7, color: '#222', fontFamily: FONT, padding: [0, 0, 0, -2] },
      },
    ],
    graphic: { elements: g },
  };
}

export default function App() {
  const ref = useRef<HTMLDivElement>(null);
  useEffect(() => {
    if (!ref.current) return;
    const chart = echarts.init(ref.current, null, { renderer: 'svg' });
    chart.setOption(buildOption() as any);
    return () => chart.dispose();
  }, []);
  return <div ref={ref} style={{ position: 'absolute', left: 0, top: 0, width: 750, height: 882 }} />;
}
